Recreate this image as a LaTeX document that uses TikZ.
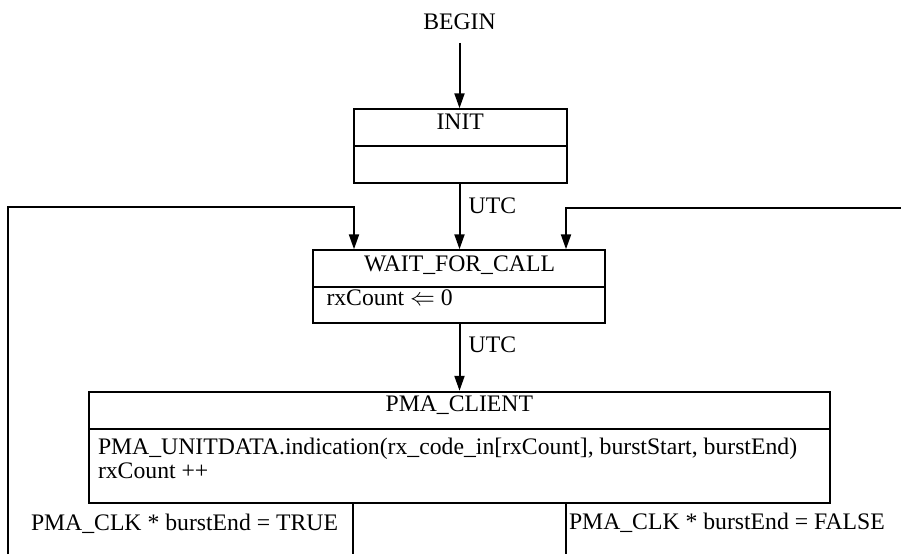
\documentclass[tikz,border=0pt]{standalone}
\usepackage{fontspec}
\setmainfont{Liberation Serif}
\usetikzlibrary{arrows.meta}
\begin{document}
\begin{tikzpicture}[x=1pt,y=-1pt,
  line width=2pt,
  every node/.style={font=\fontsize{23.7}{24}\selectfont, inner sep=0pt},
  part/.style={draw, rectangle, line width=2pt, inner sep=0pt, outer sep=0pt},
  txt/.style={anchor=base},
  ltxt/.style={anchor=base west},
  flow/.style={-{Triangle[length=15pt,width=10pt]}}
]
\useasboundingbox (0,0) rectangle (901,554);

% INIT state
\node[part, minimum width=213pt, minimum height=36.7pt] (ititle) at (460.2,127.65) {};
\node[part, minimum width=213pt, minimum height=37pt] (ibody) at (460.2,164.5) {};
\node[txt] (itext) at (460.2,129.3) {INIT};

% WAIT_FOR_CALL state
\node[part, minimum width=292.3pt, minimum height=36.7pt] (wtitle) at (459.2,268.65) {};
\node[part, minimum width=292.3pt, minimum height=36.3pt] (wbody) at (459.2,305.15) {};
\node[txt] (wtext) at (459.5,271.7) {WAIT\_FOR\_CALL};
\node[ltxt] (wact) at (325.5,305.5) {rxCount $\Leftarrow$ 0};

% PMA_CLIENT state
\node[part, minimum width=740.7pt, minimum height=36.9pt] (ptitle) at (459.7,410.25) {};
\node[part, minimum width=740.7pt, minimum height=74pt] (pbody) at (459.7,465.7) {};
\node[txt] (ptext) at (459.3,411) {PMA\_CLIENT};
\node[ltxt] (pact1) at (97,454.3) {PMA\_UNITDATA.indication(rx\_code\_in[rxCount], burstStart, burstEnd)};
\node[ltxt] (pact2) at (97,478.3) {rxCount ++};

% entry
\node[txt] (begin) at (459.5,29.3) {BEGIN};
\draw[flow] ([yshift=-12.4pt]begin.south) -- ([yshift=1pt]begin.south |- ititle.north);

% unconditional transitions
\draw[flow] (ibody.south -| begin) -- ([yshift=1pt]wtitle.north -| begin);
\node[ltxt] (utc1) at (467.7,213) {UTC};
\draw[flow] (wbody.south -| begin) -- ([yshift=1pt]ptitle.north -| begin);
\node[ltxt] (utc2) at (467.7,352.3) {UTC};

% loops back into WAIT_FOR_CALL
\coordinate (lfree) at (8.3,554);
\coordinate (lbend) at (8.3,206.7);
\coordinate (lin) at (354,206.7);
\draw[flow] (lfree) -- (lbend) -| ([yshift=1pt]wtitle.north -| lin);
\coordinate (rfree) at (901,208.3);
\coordinate (rin) at (566,208.3);
\draw[flow] (rfree) -| ([yshift=1pt]wtitle.north -| rin);

% exits from PMA_CLIENT
\coordinate (tfree) at (353.3,554);
\coordinate (ffree) at (566,554);
\draw (pbody.south -| tfree) -- (tfree);
\draw (pbody.south -| ffree) -- (ffree);
\node[ltxt] (tcond) at (30,530) {PMA\_CLK * burstEnd = TRUE};
\node[ltxt] (fcond) at (568,529.5) {PMA\_CLK * burstEnd = FALSE};
\end{tikzpicture}
\end{document}
